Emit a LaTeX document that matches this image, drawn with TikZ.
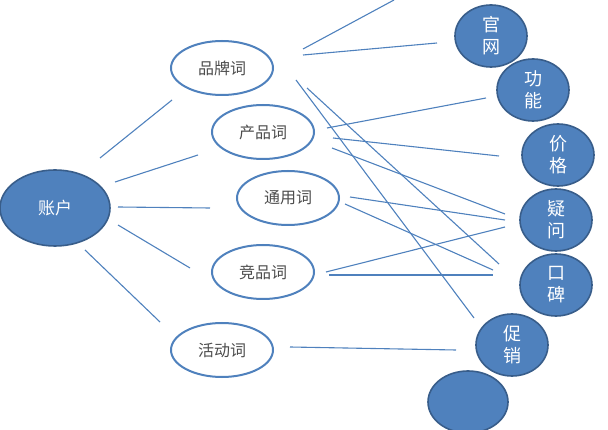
\documentclass[tikz,border=0pt]{standalone}
\usepackage{fontspec}
\setmainfont{Noto Sans CJK SC}
\usetikzlibrary{shapes.geometric}
\definecolor{accblue}{HTML}{4F81BD}
\definecolor{accedge}{HTML}{385D8A}

\begin{document}
\begin{tikzpicture}[
    x=1pt, y=-1pt,
    account/.style={ellipse, draw=accedge, line width=1.6pt, fill=accblue, text=white, inner sep=0pt, minimum width=110pt, minimum height=76pt, font=\fontsize{17}{18}\selectfont},
    keyword/.style={ellipse, draw=accblue, line width=2pt, fill=white, text=black!70, inner sep=0pt, minimum width=102pt, minimum height=54pt, font=\fontsize{16}{18}\selectfont},
    page/.style={ellipse, draw=accedge, line width=1.6pt, fill=accblue, text=white, inner sep=0pt, minimum width=72pt, minimum height=62pt, align=center, font=\fontsize{18}{22}\selectfont},
    link/.style={draw=accblue, line width=1.1pt}
]
    \useasboundingbox (0,0) rectangle (608,430);

    % Account
    \node[account] (acct) at (55,208) {账户};

    % Keyword groups
    \node[keyword] (brand) at (222,68)  {品牌词};
    \node[keyword] (prod)  at (263,132) {产品词};
    \node[keyword] (gen)   at (288,198) {通用词};
    \node[keyword] (comp)  at (263,272) {竞品词};
    \node[keyword] (promo) at (222,350) {活动词};

    % Landing pages
    \node[page] (site)   at (491,36)  {官\\网};
    \node[page] (feat)   at (533,90)  {功\\能};
    \node[page] (price)  at (558,155) {价\\格};
    \node[page] (faq)    at (556,220) {疑\\问};
    \node[page] (review) at (556,285) {口\\碑};
    \node[page] (sale)   at (512,345) {促\\销};
    \node[page, minimum width=80pt] (extra) at (468,402) {};

    % Account to keywords
    \draw[link] (100,158) -- (172,100);
    \draw[link] (115,182) -- (198,155);
    \draw[link] (118,207) -- (210,208);
    \draw[link] (118,225) -- (190,268);
    \draw[link] (85,250)  -- (160,322);

    % Keywords to pages
    \draw[link] (303,49)  -- (394,0);
    \draw[link] (303,55)  -- (437,43);
    \draw[link] (296,80)  -- (474,318);
    \draw[link] (307,88)  -- (499,264);
    \draw[link] (327,128) -- (486,98);
    \draw[link] (333,138) -- (499,156);
    \draw[link] (332,148) -- (505,214);
    \draw[link] (350,197) -- (505,220);
    \draw[link] (345,204) -- (493,270);
    \draw[link] (326,272) -- (505,227);
    \draw[link] (329,275) -- (493,275);
    \draw[link] (290,347) -- (456,350);
\end{tikzpicture}
\end{document}
